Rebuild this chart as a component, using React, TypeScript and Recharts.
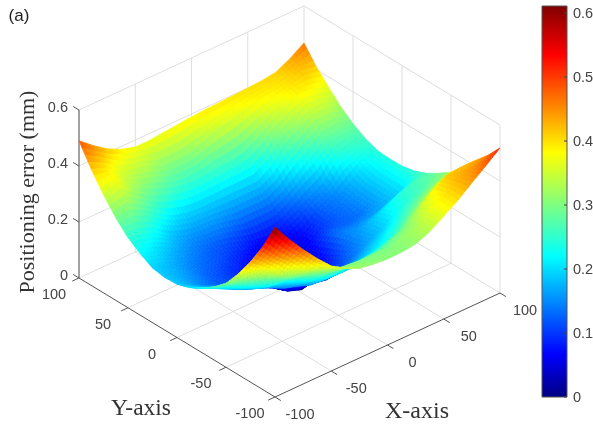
import { ScatterChart, Scatter, XAxis, YAxis, ReferenceLine, BarChart, Bar } from "recharts"

// grid of the surface
const xValues = [-100, -87.5, -75, -62.5, -50, -37.5, -25, -12.5, 0, 12.5, 25, 37.5, 50, 62.5, 75, 87.5, 100]
const yValues = [-100, -87.5, -75, -62.5, -50, -37.5, -25, -12.5, 0, 12.5, 25, 37.5, 50, 62.5, 75, 87.5, 100]

// one row per y value, one column per x value
const errorRows = [
  [0.607, 0.54, 0.48, 0.425, 0.375, 0.345, 0.32, 0.312, 0.307, 0.308, 0.314, 0.335, 0.368, 0.4, 0.44, 0.478, 0.518],
  [0.51, 0.455, 0.41, 0.36, 0.335, 0.31, 0.305, 0.3, 0.3, 0.3, 0.315, 0.33, 0.37, 0.4, 0.43, 0.445, 0.465],
  [0.43, 0.39, 0.34, 0.31, 0.29, 0.265, 0.25, 0.25, 0.255, 0.26, 0.28, 0.3, 0.34, 0.385, 0.415, 0.42, 0.42],
  [0.36, 0.33, 0.3, 0.27, 0.25, 0.22, 0.2, 0.195, 0.195, 0.205, 0.22, 0.24, 0.28, 0.31, 0.345, 0.37, 0.37],
  [0.3, 0.28, 0.25, 0.22, 0.21, 0.18, 0.155, 0.15, 0.15, 0.16, 0.18, 0.205, 0.23, 0.265, 0.29, 0.31, 0.325],
  [0.26, 0.24, 0.21, 0.185, 0.165, 0.14, 0.125, 0.11, 0.1, 0.115, 0.14, 0.165, 0.19, 0.225, 0.25, 0.27, 0.295],
  [0.23, 0.205, 0.18, 0.155, 0.14, 0.125, 0.095, 0.068, 0.07, 0.08, 0.115, 0.15, 0.18, 0.21, 0.24, 0.26, 0.268],
  [0.205, 0.18, 0.16, 0.135, 0.11, 0.09, 0.064, 0.03, 0.012, 0.045, 0.09, 0.145, 0.15, 0.16, 0.175, 0.195, 0.25],
  [0.19, 0.165, 0.14, 0.12, 0.105, 0.08, 0.05, 0.014, 0.005, 0.035, 0.07, 0.125, 0.125, 0.135, 0.165, 0.2, 0.241],
  [0.188, 0.17, 0.15, 0.125, 0.11, 0.09, 0.07, 0.05, 0.03, 0.035, 0.055, 0.095, 0.12, 0.14, 0.165, 0.2, 0.24],
  [0.195, 0.18, 0.16, 0.14, 0.125, 0.11, 0.09, 0.07, 0.045, 0.045, 0.055, 0.085, 0.125, 0.145, 0.175, 0.215, 0.243],
  [0.22, 0.205, 0.18, 0.16, 0.14, 0.125, 0.115, 0.1, 0.08, 0.075, 0.085, 0.115, 0.145, 0.17, 0.235, 0.25, 0.26],
  [0.25, 0.24, 0.22, 0.185, 0.165, 0.155, 0.155, 0.145, 0.135, 0.135, 0.135, 0.16, 0.2, 0.24, 0.28, 0.29, 0.286],
  [0.295, 0.3, 0.275, 0.24, 0.21, 0.195, 0.19, 0.19, 0.19, 0.19, 0.19, 0.22, 0.28, 0.31, 0.34, 0.34, 0.32],
  [0.35, 0.375, 0.33, 0.3, 0.28, 0.26, 0.25, 0.25, 0.26, 0.26, 0.27, 0.3, 0.34, 0.365, 0.39, 0.38, 0.364],
  [0.415, 0.395, 0.36, 0.345, 0.335, 0.31, 0.305, 0.31, 0.33, 0.35, 0.36, 0.375, 0.385, 0.39, 0.4, 0.42, 0.41],
  [0.49, 0.45, 0.415, 0.39, 0.375, 0.375, 0.38, 0.385, 0.39, 0.393, 0.395, 0.397, 0.4, 0.403, 0.41, 0.435, 0.468],
]

const xTicks = [-100, -50, 0, 50, 100]
const yTicks = [-100, -50, 0, 50, 100]
const zTicks = [0, 0.2, 0.4, 0.6]
const barTicks = [0, 0.1, 0.2, 0.3, 0.4, 0.5, 0.6]
const colorMax = 0.611

const jetStops: [number, number, number, number][] = [
  [0, 0, 0, 130],
  [0.11, 0, 0, 255],
  [0.36, 0, 255, 255],
  [0.625, 255, 255, 0],
  [0.875, 255, 0, 0],
  [1, 128, 0, 0],
]

function jet(value: number) {
  const t = Math.max(0, Math.min(1, value / colorMax))
  for (let k = 1; k < jetStops.length; k++) {
    const a = jetStops[k - 1]
    const b = jetStops[k]
    if (t <= b[0]) {
      const f = (t - a[0]) / (b[0] - a[0])
      const mix = (n: number) => Math.round(a[n] + (b[n] - a[n]) * f)
      return `rgb(${mix(1)},${mix(2)},${mix(3)})`
    }
  }
  return "rgb(128,0,0)"
}

// oblique view of the box: where the floor corners land on the page
const front = { px: 275, py: 397 }
const right = { px: 500, py: 293 }
const left = { px: 79, py: 278 }
const zPixels = 280

function project(x: number, y: number, z: number) {
  const a = (x + 100) / 200
  const b = (y + 100) / 200
  return {
    px: front.px + a * (right.px - front.px) + b * (left.px - front.px),
    py: front.py + a * (right.py - front.py) + b * (left.py - front.py) - z * zPixels,
  }
}

const shadeSteps = 4

function buildCells() {
  const cells: any[] = []
  for (let j = 0; j < yValues.length - 1; j++) {
    for (let i = 0; i < xValues.length - 1; i++) {
      const x0 = xValues[i]
      const x1 = xValues[i + 1]
      const y0 = yValues[j]
      const y1 = yValues[j + 1]
      const z00 = errorRows[j][i]
      const z10 = errorRows[j][i + 1]
      const z01 = errorRows[j + 1][i]
      const z11 = errorRows[j + 1][i + 1]
      // smooth shading inside the cell
      const at = (u: number, v: number) => {
        const z = z00 * (1 - u) * (1 - v) + z10 * u * (1 - v) + z01 * (1 - u) * v + z11 * u * v
        return { ...project(x0 + (x1 - x0) * u, y0 + (y1 - y0) * v, z), z }
      }
      const center = at(0.5, 0.5)
      const quads: { points: string; fill: string }[] = []
      for (let s = shadeSteps - 1; s >= 0; s--) {
        for (let t = shadeSteps - 1; t >= 0; t--) {
          const u0 = s / shadeSteps
          const u1 = (s + 1) / shadeSteps
          const v0 = t / shadeSteps
          const v1 = (t + 1) / shadeSteps
          const corners = [at(u0, v0), at(u1, v0), at(u1, v1), at(u0, v1)]
          const mean = corners.reduce((sum, c) => sum + c.z, 0) / 4
          quads.push({
            points: corners.map((c) => `${(c.px - center.px).toFixed(2)},${(c.py - center.py).toFixed(2)}`).join(" "),
            fill: jet(mean),
          })
        }
      }
      cells.push({ px: center.px, py: center.py, depth: x0 + y0, quads })
    }
  }
  return cells.sort((a, b) => b.depth - a.depth)
}

const cells = buildCells()

function CellShape(props: any) {
  const { cx, cy, payload } = props
  return (
    <g transform={`translate(${cx},${cy})`}>
      {payload.quads.map((q: any, n: number) => (
        <polygon key={n} points={q.points} fill={q.fill} stroke={q.fill} strokeWidth={0.7} strokeLinejoin="round" />
      ))}
    </g>
  )
}

function TextShape(props: any) {
  const { cx, cy, payload } = props
  return (
    <text
      x={cx}
      y={cy}
      textAnchor={payload.anchor ?? "middle"}
      dominantBaseline="central"
      fontFamily={payload.family ?? "'Liberation Sans', Arial, sans-serif"}
      fontSize={payload.size ?? 14.5}
      fill={payload.color ?? "#444"}
      transform={payload.rotate ? `rotate(${payload.rotate} ${cx} ${cy})` : undefined}
    >
      {payload.text}
    </text>
  )
}

const serif = "'Liberation Serif', 'Times New Roman', serif"

const labels = [
  ...xTicks.map((t) => {
    const p = project(t, -100, 0)
    return { px: p.px + 25, py: p.py + 17, text: String(t) }
  }),
  ...yTicks.map((t) => {
    const p = project(-100, t, 0)
    return { px: p.px - 25, py: p.py + 16, text: String(t) }
  }),
  ...zTicks.map((t) => {
    const p = project(-100, 100, t)
    return { px: p.px - 11, py: p.py - 3, text: String(t), anchor: "end" }
  }),
  { px: 141, py: 407, text: "Y-axis", family: serif, size: 23.5, color: "#333" },
  { px: 417, py: 410, text: "X-axis", family: serif, size: 24, color: "#333" },
  { px: 26, py: 192, text: "Positioning error (mm)", family: serif, size: 22, color: "#333", rotate: -90 },
  { px: 19, py: 15, text: "(a)", size: 17, color: "#222" },
]

const gridColor = "#dedede"
const axisColor = "#555"

function seg(a: any, b: any) {
  return [
    { x: a.px, y: a.py },
    { x: b.px, y: b.py },
  ] as any
}

const gridSegments = [
  // floor
  ...xTicks.slice(1).map((t) => seg(project(t, -100, 0), project(t, 100, 0))),
  ...yTicks.slice(1).map((t) => seg(project(-100, t, 0), project(100, t, 0))),
  // back walls, verticals
  ...xTicks.slice(0).map((t) => seg(project(t, 100, 0), project(t, 100, 0.6))),
  ...yTicks.slice(0, 4).map((t) => seg(project(100, t, 0), project(100, t, 0.6))),
  // back walls, horizontals
  ...zTicks.slice(1).flatMap((t) => [
    seg(project(-100, 100, t), project(100, 100, t)),
    seg(project(100, 100, t), project(100, -100, t)),
  ]),
]

const axisSegments = [
  seg(project(-100, 100, 0), project(-100, -100, 0)),
  seg(project(-100, -100, 0), project(100, -100, 0)),
  seg(project(-100, 100, 0), project(-100, 100, 0.6)),
  ...xTicks.map((t) => seg(project(t, -100, 0), project(t, -106, 0))),
  ...yTicks.map((t) => seg(project(-100, t, 0), project(-106, t, 0))),
  ...zTicks.map((t) => seg(project(-100, 100, t), project(-100, 106, t))),
]

const barData = [{ name: "error", value: colorMax }]

export default function App() {
  return (
    <div style={{ position: "absolute", left: 0, top: 0, width: 593, height: 425, background: "#fff", filter: "blur(0.5px)" }}>
      <div style={{ position: "absolute", left: 0, top: 0 }}>
        <ScatterChart width={593} height={425} margin={{ top: 0, right: 0, bottom: 0, left: 0 }}>
          <XAxis type="number" dataKey="px" domain={[0, 593]} hide allowDataOverflow />
          <YAxis type="number" dataKey="py" domain={[0, 425]} reversed hide allowDataOverflow />
          {gridSegments.map((s, n) => (
            <ReferenceLine key={`g${n}`} segment={s} stroke={gridColor} strokeWidth={1} ifOverflow="visible" />
          ))}
          {axisSegments.map((s, n) => (
            <ReferenceLine key={`a${n}`} segment={s} stroke={axisColor} strokeWidth={1} ifOverflow="visible" />
          ))}
          <Scatter data={cells} shape={CellShape} isAnimationActive={false} />
          <Scatter data={labels} shape={TextShape} isAnimationActive={false} />
        </ScatterChart>
      </div>
      <div style={{ position: "absolute", left: 520, top: 0 }}>
        <BarChart
          width={73}
          height={425}
          data={barData}
          margin={{ top: 6, right: 0, bottom: 28, left: 22 }}
          barCategoryGap={0}
        >
          <defs>
            <linearGradient id="jetBar" x1="0" y1="1" x2="0" y2="0">
              {jetStops.map((s) => (
                <stop key={s[0]} offset={s[0]} stopColor={`rgb(${s[1]},${s[2]},${s[3]})`} />
              ))}
            </linearGradient>
          </defs>
          <XAxis dataKey="name" hide />
          <YAxis
            orientation="right"
            width={26}
            domain={[0, colorMax]}
            ticks={barTicks}
            tickSize={-3}
            tickMargin={9}
            axisLine={false}
            stroke="#444"
            tick={{ fontSize: 14.5, fontFamily: "'Liberation Sans', Arial, sans-serif", fill: "#444", textAnchor: "start" }}
          />
          <Bar dataKey="value" fill="url(#jetBar)" stroke="#555" strokeWidth={1} isAnimationActive={false} />
        </BarChart>
      </div>
    </div>
  )
}
